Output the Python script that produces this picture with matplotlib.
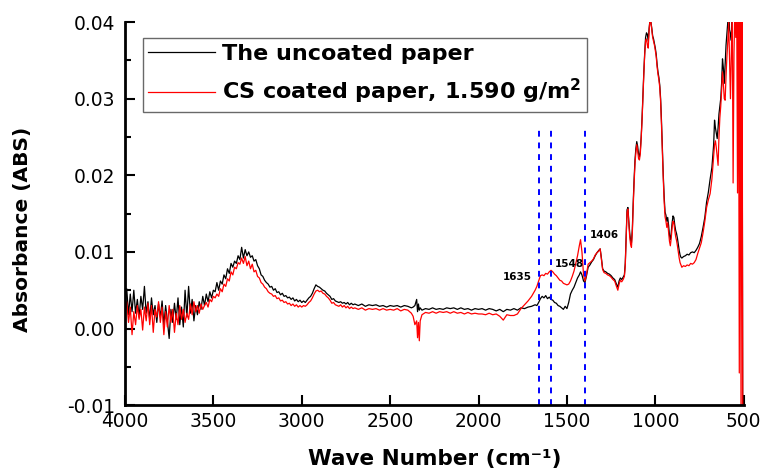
import matplotlib
matplotlib.use("Agg")
import matplotlib.pyplot as plt
from matplotlib.ticker import MultipleLocator

plt.rcParams['font.family'] = ['DejaVu Sans']

# ---------------- data ----------------
wavenumber = [
    4000, 3990, 3980, 3970, 3960, 3950, 3940, 3930, 3920, 3910,
    3900, 3890, 3880, 3870, 3860, 3850, 3840, 3830, 3820, 3810,
    3800, 3790, 3780, 3770, 3760, 3750, 3740, 3730, 3720, 3710,
    3700, 3690, 3680, 3670, 3660, 3650, 3640, 3630, 3620, 3610,
    3600, 3590, 3580, 3570, 3560, 3550, 3540, 3530, 3520, 3510,
    3500,
    3490, 3480, 3470, 3460, 3450, 3440, 3430, 3420, 3410, 3400,
    3390, 3380, 3370, 3360, 3350, 3340, 3330, 3320, 3310, 3300,
    3290, 3280, 3270, 3260, 3250, 3240, 3230, 3220, 3210, 3200,
    3190, 3180, 3170, 3160, 3150, 3140, 3130, 3120, 3110, 3100,
    3090, 3080, 3070, 3060, 3050, 3040, 3030, 3020, 3010, 3000,
    2990, 2980, 2970, 2960, 2950, 2940, 2930, 2920, 2910, 2900,
    2890, 2880, 2870, 2860, 2850, 2840, 2830, 2820, 2810, 2800,
    2790, 2780, 2770, 2760, 2750, 2740, 2730, 2720, 2710, 2700,
    2680, 2660, 2640, 2620, 2600, 2580, 2560, 2540, 2520, 2500,
    2480, 2460, 2440, 2420, 2400, 2380, 2370, 2360, 2350, 2345,
    2340, 2335, 2330, 2320, 2300, 2280, 2260, 2240, 2220, 2200,
    2180, 2160, 2140, 2120, 2100, 2080, 2060, 2040, 2020, 2000,
    1980, 1960, 1940, 1920, 1900, 1880, 1860, 1840, 1820, 1800,
    1780, 1760, 1740, 1720, 1700, 1680, 1670, 1660, 1650, 1640,
    1630, 1620, 1610, 1600, 1590, 1580, 1570, 1560, 1550, 1540,
    1530, 1520, 1510, 1500, 1490, 1480, 1470, 1460, 1450, 1440,
    1430, 1423, 1415, 1406, 1398, 1390, 1380, 1370, 1360, 1350,
    1340, 1330, 1320, 1312, 1305, 1298, 1290, 1280, 1270, 1260,
    1250, 1240, 1230, 1220, 1212, 1205, 1198, 1190, 1182, 1175,
    1170, 1165, 1160, 1155, 1150, 1145, 1140, 1135, 1130, 1125,
    1120, 1115, 1110, 1105, 1100, 1095, 1090, 1085, 1080, 1075,
    1070, 1065, 1060, 1055, 1050, 1045, 1040, 1035, 1030, 1025,
    1020, 1015, 1010, 1005, 1000, 995, 990, 985, 980, 975,
    970, 965, 960, 955, 950, 945, 940, 935, 930, 925,
    920, 915, 910, 905, 900, 895, 890, 885, 880, 875,
    870, 865, 860, 855, 850, 840, 830, 820, 810, 800,
    790, 780, 770, 760, 750, 740, 730, 720, 710, 700,
    690, 680, 670, 665, 660, 655, 650, 645, 640, 635,
    630, 625, 620, 615, 610, 605, 600, 595, 590, 585,
    580, 575, 570, 565, 560, 555, 550, 545, 540, 535,
    530, 525, 520, 515, 510, 505, 500,
]

uncoated = [
    0.0030, 0.0052, 0.0018, 0.0045, 0.0022, 0.0050, 0.0020, 0.0038, 0.0015, 0.0042,
    0.0025, 0.0055, 0.0020, 0.0035, 0.0012, 0.0040, 0.0018, 0.0030, 0.0008, 0.0032,
    0.0015, 0.0036, 0.0005, 0.0030, 0.0010, -0.0013, 0.0025, 0.0008, 0.0033, 0.0012,
    0.0040, 0.0005, 0.0028, 0.0002, 0.0050, 0.0015, 0.0055, 0.0020, 0.0038, 0.0010,
    0.0030, 0.0018, 0.0035, 0.0025, 0.0042, 0.0030, 0.0045, 0.0035, 0.0048, 0.0040,
    0.0050,
    0.0048, 0.0060, 0.0050, 0.0062, 0.0058, 0.0070, 0.0065, 0.0078, 0.0072, 0.0085,
    0.0080, 0.0088, 0.0085, 0.0095, 0.0090, 0.0106, 0.0092, 0.0103, 0.0095, 0.0100,
    0.0093, 0.0095, 0.0088, 0.0090, 0.0082, 0.0078, 0.0070, 0.0068, 0.0063, 0.0060,
    0.0058, 0.0054, 0.0055, 0.0050, 0.0052, 0.0047, 0.0048, 0.0044, 0.0046, 0.0042,
    0.0043, 0.0040, 0.0041, 0.0038, 0.0040, 0.0036, 0.0038, 0.0035, 0.0037, 0.0034,
    0.0036, 0.0034, 0.0037, 0.0040, 0.0042, 0.0046, 0.0052, 0.0057, 0.0055, 0.0054,
    0.0052, 0.0050, 0.0049, 0.0046, 0.0044, 0.0042, 0.0038, 0.0039, 0.0036, 0.0035,
    0.0034, 0.0035, 0.0033, 0.0034, 0.0032, 0.0034, 0.0031, 0.0033, 0.0031, 0.0032,
    0.0030, 0.0032, 0.0029, 0.0031, 0.0030, 0.0031, 0.0029, 0.0030, 0.0028, 0.0030,
    0.0029, 0.0030, 0.0028, 0.0030, 0.0029, 0.0027, 0.0028, 0.0030, 0.0038, 0.0022,
    0.0032, 0.0024, 0.0027, 0.0024, 0.0026, 0.0025, 0.0027, 0.0025, 0.0026, 0.0025,
    0.0027, 0.0026, 0.0027, 0.0025, 0.0027, 0.0025, 0.0026, 0.0024, 0.0026, 0.0025,
    0.0026, 0.0024, 0.0026, 0.0025, 0.0023, 0.0025, 0.0022, 0.0025, 0.0024, 0.0026,
    0.0024, 0.0027, 0.0026, 0.0028, 0.0029, 0.0031, 0.0030, 0.0034, 0.0039, 0.0042,
    0.0040, 0.0043, 0.0039, 0.0041, 0.0038, 0.0037, 0.0034, 0.0033, 0.0030, 0.0029,
    0.0027, 0.0025, 0.0029, 0.0026, 0.0034, 0.0045, 0.0050, 0.0054, 0.0060, 0.0066,
    0.0070, 0.0074, 0.0070, 0.0062, 0.0060, 0.0068, 0.0080, 0.0083, 0.0087, 0.0090,
    0.0095, 0.0099, 0.0102, 0.0104, 0.0092, 0.0078, 0.0075, 0.0074, 0.0072, 0.0071,
    0.0069, 0.0066, 0.0064, 0.0058, 0.0054, 0.0062, 0.0066, 0.0064, 0.0067, 0.0070,
    0.0085, 0.0120, 0.0155, 0.0158, 0.0140, 0.0125, 0.0115, 0.0112, 0.0130, 0.0165,
    0.0195, 0.0220, 0.0235, 0.0244, 0.0238, 0.0228, 0.0224, 0.0232, 0.0250, 0.0275,
    0.0305, 0.0335, 0.0360, 0.0380, 0.0386, 0.0384, 0.0375, 0.0392, 0.0403, 0.0400,
    0.0392, 0.0382, 0.0378, 0.0372, 0.0366, 0.0358, 0.0345, 0.0335, 0.0328, 0.0318,
    0.0300, 0.0270, 0.0235, 0.0200, 0.0172, 0.0152, 0.0148, 0.0140, 0.0145, 0.0135,
    0.0122, 0.0116, 0.0125, 0.0138, 0.0147, 0.0145, 0.0135, 0.0128, 0.0124, 0.0118,
    0.0110, 0.0102, 0.0096, 0.0093, 0.0092, 0.0094, 0.0095, 0.0097, 0.0096, 0.0099,
    0.0100, 0.0099, 0.0102, 0.0106, 0.0111, 0.0120, 0.0132, 0.0145, 0.0165, 0.0178,
    0.0195, 0.0210, 0.0240, 0.0272, 0.0262, 0.0255, 0.0248, 0.0262, 0.0280, 0.0290,
    0.0300, 0.0320, 0.0352, 0.0340, 0.0320, 0.0345, 0.0370, 0.0385, 0.0400, 0.0415,
    0.0390, 0.0385, 0.0376, 0.0420, 0.0440, 0.0420, 0.0450, 0.0430, 0.0460, 0.0440,
    0.0470, 0.0450, 0.0480, 0.0460, 0.0500, -0.0200, -0.0200,
]

coated = [
    0.0020, 0.0035, 0.0008, 0.0028, -0.0008, 0.0022, 0.0005, 0.0030, 0.0012, 0.0025,
    -0.0002, 0.0028, 0.0010, 0.0033, 0.0005, 0.0030, -0.0005, 0.0025, 0.0015, 0.0035,
    0.0008, 0.0028, -0.0008, 0.0022, 0.0002, 0.0030, 0.0008, 0.0025, -0.0005, 0.0020,
    0.0005, 0.0030, 0.0012, 0.0025, 0.0008, 0.0020, 0.0012, 0.0032, 0.0018, 0.0035,
    0.0022, 0.0030, 0.0020, 0.0032, 0.0025, 0.0030, 0.0034, 0.0028, 0.0038, 0.0035,
    0.0042,
    0.0040, 0.0045, 0.0042, 0.0052, 0.0048, 0.0058, 0.0055, 0.0065, 0.0062, 0.0074,
    0.0070, 0.0080, 0.0078, 0.0086, 0.0084, 0.0092, 0.0085, 0.0094, 0.0082, 0.0088,
    0.0078, 0.0084, 0.0074, 0.0076, 0.0068, 0.0066, 0.0060, 0.0058, 0.0054, 0.0052,
    0.0048, 0.0046, 0.0045, 0.0042, 0.0043, 0.0039, 0.0040, 0.0036, 0.0037, 0.0034,
    0.0035, 0.0032, 0.0033, 0.0030, 0.0032, 0.0029, 0.0031, 0.0028, 0.0030, 0.0028,
    0.0030, 0.0029, 0.0031, 0.0034, 0.0036, 0.0040, 0.0045, 0.0049, 0.0050, 0.0048,
    0.0049, 0.0046, 0.0045, 0.0042, 0.0040, 0.0037, 0.0033, 0.0034, 0.0031, 0.0030,
    0.0029, 0.0031, 0.0028, 0.0030, 0.0027, 0.0029, 0.0026, 0.0028, 0.0026, 0.0027,
    0.0025, 0.0027, 0.0024, 0.0026, 0.0025, 0.0026, 0.0024, 0.0026, 0.0024, 0.0025,
    0.0024, 0.0026, 0.0023, 0.0025, 0.0024, 0.0020, 0.0016, 0.0005, 0.0010, -0.0012,
    0.0008, -0.0016, 0.0010, 0.0018, 0.0021, 0.0020, 0.0022, 0.0020, 0.0022, 0.0021,
    0.0022, 0.0020, 0.0022, 0.0020, 0.0021, 0.0019, 0.0021, 0.0019, 0.0020, 0.0019,
    0.0019, 0.0018, 0.0020, 0.0018, 0.0019, 0.0016, 0.0011, 0.0018, 0.0017, 0.0017,
    0.0019, 0.0026, 0.0031, 0.0036, 0.0042, 0.0050, 0.0055, 0.0062, 0.0069, 0.0070,
    0.0069, 0.0072, 0.0071, 0.0074, 0.0076, 0.0074, 0.0071, 0.0069, 0.0066, 0.0063,
    0.0062, 0.0059, 0.0058, 0.0057, 0.0058, 0.0062, 0.0068, 0.0075, 0.0085, 0.0095,
    0.0108, 0.0116, 0.0100, 0.0070, 0.0062, 0.0070, 0.0084, 0.0086, 0.0088, 0.0091,
    0.0096, 0.0099, 0.0101, 0.0104, 0.0090, 0.0077, 0.0073, 0.0072, 0.0070, 0.0069,
    0.0067, 0.0064, 0.0062, 0.0055, 0.0050, 0.0058, 0.0063, 0.0061, 0.0064, 0.0068,
    0.0082, 0.0118, 0.0152, 0.0156, 0.0138, 0.0120, 0.0110, 0.0106, 0.0125, 0.0160,
    0.0190, 0.0215, 0.0230, 0.0240, 0.0232, 0.0222, 0.0220, 0.0228, 0.0248, 0.0272,
    0.0302, 0.0332, 0.0358, 0.0376, 0.0378, 0.0370, 0.0366, 0.0390, 0.0403, 0.0400,
    0.0390, 0.0380, 0.0375, 0.0370, 0.0363, 0.0355, 0.0342, 0.0332, 0.0325, 0.0315,
    0.0296, 0.0265, 0.0230, 0.0195, 0.0166, 0.0146, 0.0140, 0.0132, 0.0138, 0.0126,
    0.0114, 0.0108, 0.0118, 0.0132, 0.0140, 0.0138, 0.0128, 0.0120, 0.0115, 0.0108,
    0.0100, 0.0092, 0.0086, 0.0083, 0.0080, 0.0082, 0.0081, 0.0083, 0.0082, 0.0085,
    0.0084, 0.0086, 0.0090, 0.0098, 0.0105, 0.0112, 0.0125, 0.0140, 0.0158, 0.0168,
    0.0176, 0.0195, 0.0225, 0.0240, 0.0245, 0.0236, 0.0225, 0.0213, 0.0250, 0.0275,
    0.0290, 0.0310, 0.0335, 0.0320, 0.0300, 0.0298, 0.0330, 0.0355, 0.0375, 0.0400,
    0.0350, 0.0300, 0.0360, 0.0420, 0.0190, 0.0360, 0.0420, 0.0380, 0.0450, 0.0177,
    0.0500, -0.0058, 0.0550, -0.0150, 0.0600, -0.0200, -0.0250,
]

series_labels = ["The uncoated paper", "CS coated paper, 1.590 g/m$^{\\mathbf{2}}$"]
marker_positions = [1660, 1590, 1400]
peak_labels = ["1635", "1548", "1406"]
peak_label_x = [1699, 1569, 1371]
peak_label_y = [0.0067, 0.0084, 0.0122]
x_ticks = [4000, 3500, 3000, 2500, 2000, 1500, 1000, 500]
y_ticks = [-0.01, 0.00, 0.01, 0.02, 0.03, 0.04]

# ---------------- figure ----------------
fig = plt.figure(figsize=(7.62, 4.70), dpi=100)
ax = fig.add_axes([0.164, 0.138, 0.812, 0.815])

ax.plot(wavenumber, uncoated, color='black', lw=0.9, label=series_labels[0])
ax.plot(wavenumber, coated, color='#ff0000', lw=0.9, label=series_labels[1])

for xm in marker_positions:
    ax.plot([xm, xm], [-0.01, 0.0262], color='#0000ff', lw=1.4,
            linestyle=(0, (3, 3)))

ax.text(peak_label_x[0], peak_label_y[0], peak_labels[0], ha='right', va='center',
        fontsize=7.5, fontweight='bold')
ax.text(peak_label_x[1], peak_label_y[1], peak_labels[1], ha='left', va='center',
        fontsize=7.5, fontweight='bold')
ax.text(peak_label_x[2], peak_label_y[2], peak_labels[2], ha='left', va='center',
        fontsize=7.5, fontweight='bold')

ax.set_xlim(4000, 500)
ax.set_ylim(-0.01, 0.04)
ax.set_xticks(x_ticks)
ax.set_yticks(y_ticks)
ax.set_yticklabels([f"{v:.2f}" for v in y_ticks])
ax.yaxis.set_minor_locator(MultipleLocator(0.005))

for s in ['top', 'right']:
    ax.spines[s].set_visible(False)
for s in ['left', 'bottom']:
    ax.spines[s].set_linewidth(2)

ax.tick_params(axis='both', which='major', direction='in', length=7, width=1.5,
               labelsize=13.4)
ax.tick_params(axis='y', which='minor', direction='in', length=4, width=1.5)
ax.tick_params(axis='y', which='major', pad=7)
ax.tick_params(axis='x', which='major', pad=5)

ax.set_xlabel("Wave Number (cm\u207b\u00b9)", fontsize=15.5, fontweight='bold',
              va='baseline')
ax.xaxis.set_label_coords(0.5, -0.157)
ax.set_ylabel("Absorbance (ABS)", fontsize=14.5, fontweight='bold', va='center')
ax.yaxis.set_label_coords(-0.166, 0.46)

leg = ax.legend(loc='upper left', bbox_to_anchor=(0.029, 0.958), borderaxespad=0,
                fancybox=False, frameon=True, handlelength=3.0, handletextpad=0.32,
                borderpad=0.25, labelspacing=0.6,
                prop={'weight': 'bold', 'size': 16})
leg.get_frame().set_edgecolor('#444444')
leg.get_frame().set_linewidth(1.0)

fig.savefig("out.png", dpi=100)
